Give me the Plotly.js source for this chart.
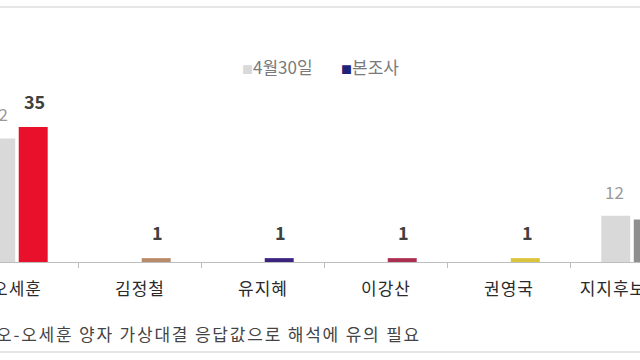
<!DOCTYPE html>
<html><head><meta charset="utf-8">
<script src="https://cdn.plot.ly/plotly-3.0.1.min.js"></script>
<style>
html,body{margin:0;padding:0;background:#fff;overflow:hidden}
.xtick text{letter-spacing:1px}
g.annotation:last-child text{letter-spacing:1.8px}
</style>
</head><body><div id="chart" style="width:640px;height:360px"></div>
<script>
const categories = ['오세훈', '김정철', '유지혜', '이강산', '권영국', '지지후보 없음'];
const seriesNames = ['4월30일', '본조사'];
const valuesApr30 = [32, null, null, null, null, 12];
const valuesMain = [35, 1, 1, 1, 1, 11];
const colorApr30 = '#d9d9d9';
const colorsMain = ['#e8102a', '#b88a68', '#3c2380', '#aa2f50', '#d9c43c', '#8f8f8f'];
const legendColors = ['#d9d9d9', '#1c2379'];
const footnote = '정원오-오세훈 양자 가상대결 응답값으로 해석에 유의 필요';

const font = '"Noto Sans CJK KR", "Noto Sans", sans-serif';

const traces = [
  {type: 'bar', x: categories, y: valuesApr30, name: seriesNames[0], marker: {color: colorApr30}, showlegend: false, hoverinfo: 'none'},
  {type: 'bar', x: categories, y: valuesMain, name: seriesNames[1], marker: {color: colorsMain}, showlegend: false, hoverinfo: 'none'}
];

const annotations = [];
categories.forEach((c, i) => {
  if (valuesApr30[i] != null) annotations.push({x: c, y: valuesApr30[i], xref: 'x', yref: 'y', text: String(valuesApr30[i]), showarrow: false, xshift: -18, yshift: 10, yanchor: 'bottom', font: {family: font, size: 17, color: '#9a9a9a'}});
  if (valuesMain[i] != null) annotations.push({x: c, y: valuesMain[i], xref: 'x', yref: 'y', text: '<b>' + valuesMain[i] + '</b>', showarrow: false, xshift: 18, yshift: 11, yanchor: 'bottom', font: {family: font, size: 18, color: '#404040'}});
});
// legend built from series names and colours
const legendX = [240 / 640, 339 / 640];
seriesNames.forEach((n, i) => {
  annotations.push({x: legendX[i], y: 1.015, xref: 'paper', yref: 'paper', xanchor: 'left', yanchor: 'middle', showarrow: false,
    text: '<span style="color:' + legendColors[i] + ';font-size:11px">■</span>' + n,
    font: {family: font, size: 17, color: '#7a7a7a'}});
});
annotations.push({x: 395/640, y: -0.368, xref: 'paper', yref: 'paper', text: footnote, showarrow: false, xanchor: 'right', yanchor: 'middle', font: {family: font, size: 17, color: '#444'}});

const layout = {
  width: 640, height: 360,
  margin: {l: 0, r: 0, t: 69, b: 98},
  paper_bgcolor: '#fff', plot_bgcolor: '#fff',
  barmode: 'group', bargap: 0.472, bargroupgap: 0.108,
  font: {family: font},
  xaxis: {type: 'category', range: [-0.138, 5.065], automargin: false, showgrid: false, zeroline: false,
    showline: true, linecolor: '#bdbdbd', linewidth: 1, ticks: 'outside', tickson: 'boundaries', ticklen: 5, tickcolor: '#bdbdbd',
    ticklabelstandoff: 12, tickfont: {family: font, size: 17, color: '#2a2a2a'}, fixedrange: true},
  yaxis: {range: [0, 50], visible: false, showgrid: false, zeroline: false, fixedrange: true},
  shapes: [
    {type: 'line', xref: 'paper', yref: 'paper', x0: 0, x1: 1, y0: 1.321, y1: 1.321, line: {color: '#e6e6e6', width: 2}},
    {type: 'line', xref: 'paper', yref: 'paper', x0: 0, x1: 1, y0: -0.466, y1: -0.466, line: {color: '#e6e6e6', width: 2}}
  ],
  annotations: annotations,
  showlegend: false
};

Plotly.newPlot('chart', traces, layout, {staticPlot: true, displayModeBar: false});
</script></body></html>
